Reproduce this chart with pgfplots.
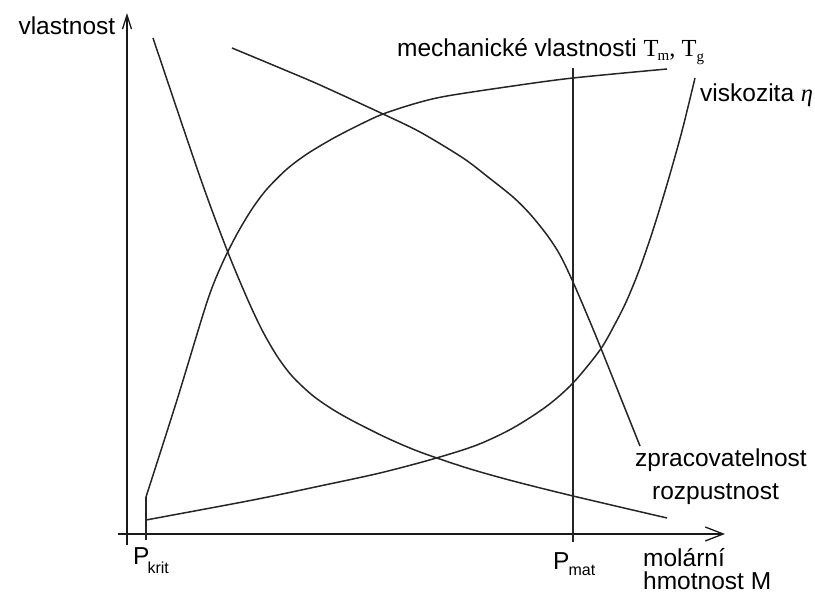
\documentclass[border=0pt]{standalone}
\usepackage{pgfplots}
\pgfplotsset{compat=1.18}
\usepackage{fontspec}
\setmainfont{Liberation Sans}
\newfontfamily\serif{Liberation Serif}
\usetikzlibrary{arrows.meta}
\begin{document}
\begin{tikzpicture}
\begin{axis}[
  x=1pt, y=1pt,
  xmin=-127, xmax=688, ymin=-63, ymax=534,
  hide axis, clip=false,
  every axis plot/.append style={black!85, line width=1.5pt},
  font=\fontsize{24.5}{28}\selectfont,
]
\path (axis cs:-127,-63) rectangle (axis cs:688,534);
% axes
\addplot[black!90, line width=1.7pt, -{Straight Barb[length=18pt,width=14pt,line width=1.3pt]}] coordinates {(-9,0) (598,0)};
\addplot[black!90, line width=1.7pt, -{Straight Barb[length=14pt,width=9pt,line width=1.3pt]}] coordinates {(0,-11) (0,521)};
% P_krit tick / start and P_mat vertical
\addplot[line width=1.7pt] coordinates {(19,-6) (19,37)};
\addplot[line width=1.7pt] coordinates {(446,-8) (446,466)};
% mechanicke vlastnosti
\addplot[smooth, tension=0.5] coordinates {
(19,37) (50,134) (80,232) (95,270) (110,300) (125,325) (140,345) (160,365) (180,380) (205,395) (230,408) (256,420) (290,431) (320,438) (386,448) (446,456) (540,465)};
% viskozita
\addplot[smooth, tension=0.5] coordinates {
(19,14) (126,34) (193,48) (253,61) (306,75) (350,89) (386,106) (420,128) (446,151) (473,184) (488,210) (500,234) (513,266) (527,307) (541,353) (555,403) (568,456)};
% zpracovatelnost
\addplot[smooth, tension=0.5] coordinates {
(105,486) (153,466) (193,449) (256,420) (293,402) (336,376) (361,357) (386,337) (403,320) (420,299) (433,279) (446,252) (461,217) (473,188) (493,138) (513,88)};
% rozpustnost
\addplot[smooth, tension=0.5] coordinates {
(26,496) (73,357) (100,284) (120,236) (135,204) (150,178) (165,158) (185,139) (205,125) (226,113) (260,96) (293,82) (340,66) (386,53) (446,38) (540,16)};
% labels
\node[anchor=base west] at (axis cs:-112,499) {vlastnost};
\node[anchor=base west, inner sep=0pt] at (axis cs:270,477) {mechanické vlastnosti {\serif T\kern-1pt\raisebox{-4pt}{\fontsize{15}{15}\selectfont m}, T\raisebox{-5pt}{\fontsize{15}{15}\selectfont g}}};
\node[anchor=base west, inner sep=0pt] at (axis cs:573,432) {viskozita {\serif\itshape η}};
\node[anchor=base west, inner sep=0pt] at (axis cs:508,67) {zpracovatelnost};
\node[anchor=base west, inner sep=0pt] at (axis cs:525,34) {rozpustnost};
\node[anchor=base west, inner sep=0pt] at (axis cs:516,-33) {molární};
\node[anchor=base west, inner sep=0pt] at (axis cs:516,-56) {hmotnost M};
\node[anchor=base west, inner sep=0pt] at (axis cs:6,-31) {P\kern-2pt\raisebox{-9pt}{\fontsize{16}{16}\selectfont krit}};
\node[anchor=base west, inner sep=0pt] at (axis cs:426,-36) {P\kern-1pt\raisebox{-6pt}{\fontsize{16}{16}\selectfont mat}};
\end{axis}
\end{tikzpicture}
\end{document}
